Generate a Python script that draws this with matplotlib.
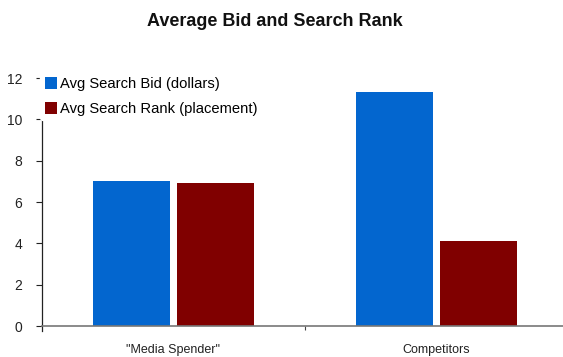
import matplotlib
matplotlib.use("Agg")
import matplotlib.pyplot as plt
import numpy as np

categories = ['"Media Spender"', 'Competitors']
bid = [7.0, 11.3]
rank = [6.9, 4.1]
yticks = [0, 2, 4, 6, 8, 10, 12]

plt.rcParams['font.family'] = ['Liberation Sans', 'DejaVu Sans']

W, H = 563, 357
fig = plt.figure(figsize=(W / 100, H / 100), dpi=100)
ax = fig.add_axes([42 / W, 1 - 326 / H, 526 / W, (326 - 78) / H])

x = np.arange(len(categories))
bw = 0.29
off = 0.16
ax.bar(x - off, bid, bw, color='#0366CF', label='Avg Search Bid (dollars)', zorder=2)
ax.bar(x + off, rank, bw, color='#800000', label='Avg Search Rank (placement)', zorder=2)

ax.set_xlim(-0.5, 1.5)
ax.set_ylim(0, 12)
ax.set_yticks(yticks)
ax.set_yticklabels([str(t) for t in yticks], fontsize=10, color='#222222')
ax.tick_params(axis='y', direction='out', length=4.3, width=0.8, color='#222222', pad=10)

ax.set_xticks(x)
ax.set_xticklabels(categories, fontsize=9, color='#222222')
ax.tick_params(axis='x', length=0, pad=13)
ax.set_xticks([0.5], minor=True)
ax.tick_params(axis='x', which='minor', direction='out', length=3, width=0.8, color='#444444')

for s in ['top', 'right']:
    ax.spines[s].set_visible(False)
ax.spines['left'].set_color('#222222')
ax.spines['left'].set_linewidth(0.9)
ax.spines['left'].set_bounds(-0.25, 12)
ax.spines['bottom'].set_color('#777777')
ax.spines['bottom'].set_linewidth(1.2)

leg = ax.legend(loc='upper left', bbox_to_anchor=(-0.003, 1.022), frameon=True, fontsize=10.6,
                handlelength=0.85, handleheight=0.85, handletextpad=0.15, labelspacing=0.75,
                borderpad=0.3, borderaxespad=0.0)
leg.get_frame().set_edgecolor('white')
leg.get_frame().set_facecolor('white')
leg.get_frame().set_alpha(1)
leg.set_zorder(5)

fig.text(275 / W, 1 - 21 / H, 'Average Bid and Search Rank', ha='center', va='center',
         fontsize=13, fontweight='bold', color='#111111')

fig.savefig('out.png', dpi=100)
